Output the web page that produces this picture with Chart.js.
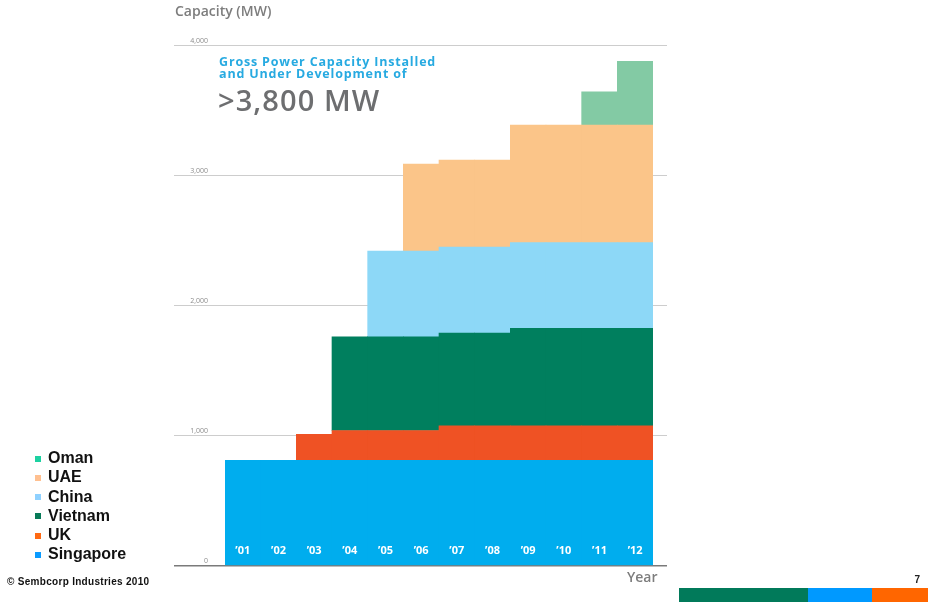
<!DOCTYPE html>
<html>
<head>
<meta charset="utf-8">
<script src="https://cdn.jsdelivr.net/npm/chart.js@4/dist/chart.umd.min.js"></script>
<style>
  html, body { margin: 0; padding: 0; background: #fff; }
  #page { position: relative; width: 928px; height: 602px; overflow: hidden; font-family: Arial, "Liberation Sans", sans-serif; }
  #chart { position: absolute; left: 0; top: 0; }
  .axis-title { position: absolute; font: 600 14px "Open Sans", sans-serif; line-height: 14px; color: #7d7d7d; white-space: nowrap; }
  #headline { position: absolute; left: 219px; top: 55.5px; font: 700 12.5px "Open Sans", sans-serif; line-height: 12px; letter-spacing: 0.83px; color: #27aae1; white-space: nowrap; }
  #bignum { position: absolute; left: 218px; top: 85px; font: 600 29px "Open Sans", sans-serif; line-height: 29px; letter-spacing: 1.1px; color: #6d6e70; white-space: nowrap; }
  #legend { position: absolute; left: 35px; top: 449px; }
  .lg-row { position: relative; height: 19.3px; line-height: 19px; font: bold 16px Arial, "Liberation Sans", sans-serif; color: #111; white-space: nowrap; }
  .lg-box { position: absolute; left: 0; top: 6.5px; width: 6px; height: 6px; }
  .lg-text { position: absolute; left: 13px; top: 0; }
  #footer { position: absolute; left: 7px; top: 576px; font: bold 10px Arial, "Liberation Sans", sans-serif; line-height: 12px; color: #111; white-space: nowrap; letter-spacing: 0.3px; }
  #pageno { position: absolute; right: 8px; top: 574px; font: bold 10px Arial, "Liberation Sans", sans-serif; line-height: 12px; color: #222; }
  .band { position: absolute; top: 588px; height: 14px; }
</style>
</head>
<body>
<div id="page">
  <canvas id="chart" width="928" height="602"></canvas>
  <div class="axis-title" style="left:175px; top:4px;">Capacity (MW)</div>
  <div class="axis-title" style="left:627px; top:570px;">Year</div>
  <div id="headline">Gross Power Capacity Installed<br>and Under Development of</div>
  <div id="bignum">&gt;3,800 MW</div>
  <div id="legend"></div>
  <div id="footer">© Sembcorp Industries 2010</div>
  <div id="pageno">7</div>
  <div class="band" style="left:679px; width:129px; background:#017a5a;"></div>
  <div class="band" style="left:808px; width:64px; background:#0099ff;"></div>
  <div class="band" style="left:872px; width:56px; background:#ff6600;"></div>
</div>
<script>
// Years on the category axis
const years = ['’01', '’02', '’03', '’04', '’05', '’06', '’07', '’08', '’09', '’10', '’11', '’12'];

// Gross capacity per country, MW (null = not yet in the portfolio)
const singapore = [810, 810, 810, 810, 810, 810, 810, 810, 810, 810, 810, 810];
const uk        = [null, null, 200, 230, 230, 230, 265, 265, 265, 265, 265, 265];
const vietnam   = [null, null, null, 720, 720, 720, 715, 715, 750, 750, 750, 750];
const china     = [null, null, null, null, 660, 660, 660, 660, 660, 660, 660, 660];
const uae       = [null, null, null, null, null, 670, 670, 670, 905, 905, 905, 905];
const oman      = [null, null, null, null, null, null, null, null, null, null, 255, 490];

// Value axis tick labels
const yTickLabels = ['0', '1,000', '2,000', '3,000', '4,000'];

const seriesNames  = ['Singapore', 'UK', 'Vietnam', 'China', 'UAE', 'Oman'];
const seriesValues = [singapore, uk, vietnam, china, uae, oman];
const barColors    = ['#00adee', '#ef5224', '#007f5e', '#8dd8f7', '#fbc589', '#83caa4'];
const legendColors = ['#0a9bff', '#ff6a13', '#087a58', '#8fd1ff', '#ffc090', '#1dd1a1'];

// Legend, listed top-down from the last series stacked
const legendEl = document.getElementById('legend');
for (let i = seriesNames.length - 1; i >= 0; i--) {
  const row = document.createElement('div');
  row.className = 'lg-row';
  row.innerHTML = '<span class="lg-box" style="background:' + legendColors[i] + '"></span>' +
                  '<span class="lg-text">' + seriesNames[i] + '</span>';
  legendEl.appendChild(row);
}

const gridColor = c => (c.tick && c.tick.value === 0) ? '#7a7a7a' : '#cdcdcd';
const gridWidth = c => (c.tick && c.tick.value === 0) ? 1.5 : 1;

new Chart(document.getElementById('chart'), {
  type: 'bar',
  data: {
    labels: years,
    datasets: seriesValues.map((vals, i) => ({
      label: seriesNames[i],
      data: vals,
      backgroundColor: barColors[i],
      borderWidth: 0,
      barPercentage: 1,
      categoryPercentage: 1
    }))
  },
  options: {
    responsive: false,
    animation: false,
    layout: { padding: { left: 174, right: 261, top: 45.7, bottom: 16.3 } },
    plugins: { legend: { display: false }, tooltip: { enabled: false } },
    scales: {
      x: {
        stacked: true,
        grid: { display: false, drawTicks: false },
        border: { display: false },
        ticks: {
          z: 1,                       // year labels sit on top of the bars
          mirror: true,               // labels drawn inside the plot area
          color: '#ffffff',
          font: { family: 'Open Sans', weight: 'bold', size: 11 },
          padding: 8,
          maxRotation: 0,
          autoSkip: false
        },
        afterFit(scale) { scale.height = 20; }
      },
      y: {
        stacked: true,
        min: 0,
        max: 4000,
        grid: { color: gridColor, lineWidth: gridWidth, tickLength: 51 },
        border: { display: false },
        ticks: {
          stepSize: 1000,
          color: '#8c8c8c',
          font: { family: 'Open Sans', size: 7 },
          padding: -34,
          labelOffset: -5,
          callback: (v, i) => yTickLabels[i]
        },
        afterFit(scale) { scale.width = 51; }
      },
      y2: {
        position: 'right',
        min: 0,
        max: 4000,
        grid: { color: gridColor, lineWidth: gridWidth, tickLength: 14, drawOnChartArea: false },
        border: { display: false },
        ticks: { stepSize: 1000, display: false },
        afterFit(scale) { scale.width = 14; }
      }
    }
  }
});
</script>
</body>
</html>
